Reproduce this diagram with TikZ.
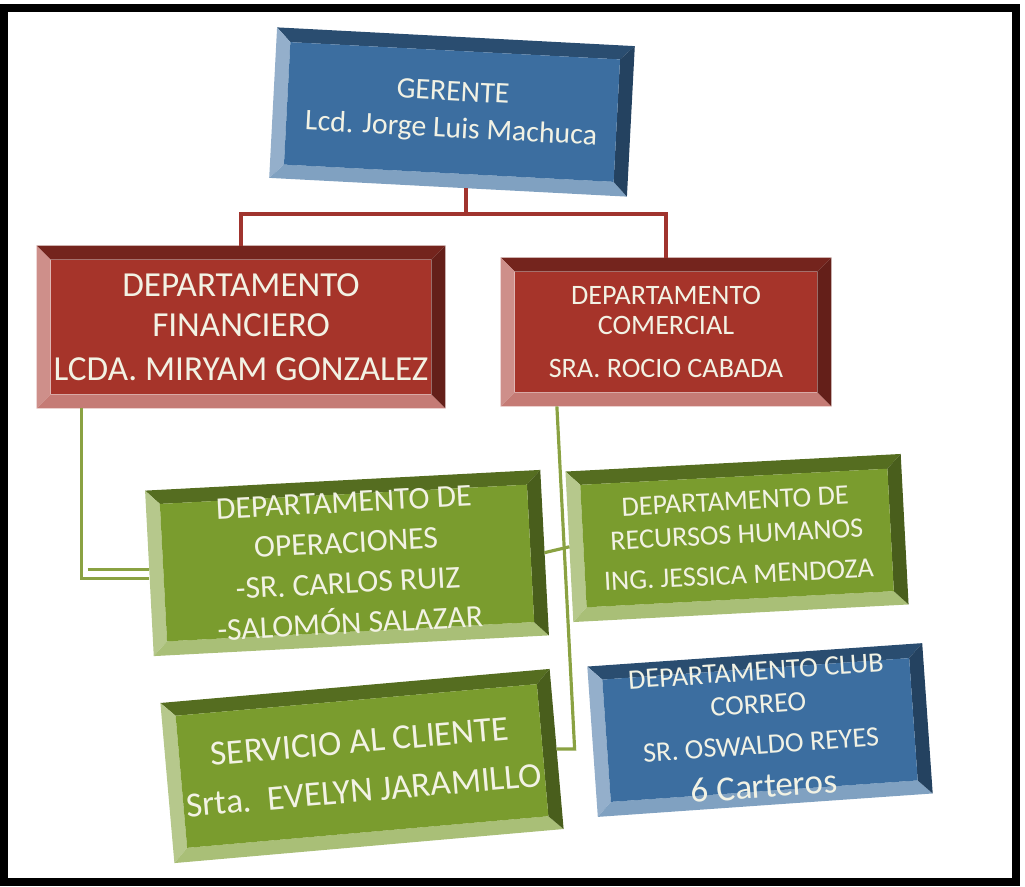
\documentclass[tikz,border=0pt]{standalone}
\usepackage{fontspec}
\setmainfont{Carlito}
\usetikzlibrary{calc,backgrounds}

\definecolor{boxblue}{RGB}{60,110,160}
\definecolor{boxred}{RGB}{166,52,42}
\definecolor{boxgreen}{RGB}{122,156,46}
\definecolor{linered}{RGB}{160,52,46}
\definecolor{linegreen}{RGB}{138,162,66}
\definecolor{boxtext}{RGB}{242,242,228}

\newcommand{\bevw}{8pt}

\tikzset{
  orgbox/.style={rectangle, inner sep=0pt, align=center, text=boxtext},
  redline/.style={draw=linered, line width=2pt},
  greenline/.style={draw=linegreen, line width=1.8pt}
}

\begin{document}
\begin{tikzpicture}[x=0.2mm, y=-0.2mm]
\useasboundingbox (0,0) rectangle (1025,886);

% black frame
\draw[line width=1.6mm] (4,8) rectangle (1016,882);

% boxes
\node[orgbox, minimum width=7.15cm, minimum height=3cm, rotate=-3,
      font=\fontsize{17}{21}\selectfont] (ger) at (452,112)
      {GERENTE\\Lcd. Jorge Luis Machuca};
\node[orgbox, minimum width=8.16cm, minimum height=3.24cm,
      font=\fontsize{20}{23}\selectfont] (fin) at (241,327)
      {DEPARTAMENTO\\FINANCIERO\\[2pt]LCDA. MIRYAM GONZALEZ};
\node[orgbox, minimum width=6.6cm, minimum height=2.96cm,
      font=\fontsize{16}{17}\selectfont] (com) at (666,332)
      {DEPARTAMENTO\\COMERCIAL\\[7pt]SRA. ROCIO CABADA};
\node[orgbox, minimum width=7.9cm, minimum height=3.3cm, rotate=3,
      font=\fontsize{18}{23}\selectfont] (ops) at (347,563)
      {DEPARTAMENTO DE\\OPERACIONES\\-SR. CARLOS RUIZ\\-SALOMÓN SALAZAR};
\node[orgbox, minimum width=6.7cm, minimum height=3cm, rotate=3,
      font=\fontsize{16}{19}\selectfont] (rrh) at (737,538)
      {DEPARTAMENTO DE\\RECURSOS HUMANOS\\[4pt]ING. JESSICA MENDOZA};
\node[orgbox, minimum width=7.8cm, minimum height=3.2cm, rotate=5,
      font=\fontsize{20}{28}\selectfont] (srv) at (362,766)
      {SERVICIO AL CLIENTE\\Srta.\ \ EVELYN JARAMILLO};
\node[orgbox, minimum width=6.7cm, minimum height=3cm, rotate=4,
      font=\fontsize{16}{19}\selectfont] (club) at (760,730)
      {DEPARTAMENTO CLUB\\CORREO\\[4pt]SR. OSWALDO REYES\\[6pt]{\fontsize{20}{20}\selectfont 6 Carteros}};

% bevelled faces behind the text
\begin{scope}[on background layer]
\foreach \n/\fc in {ger/boxblue, fin/boxred, com/boxred, ops/boxgreen,
                    rrh/boxgreen, srv/boxgreen, club/boxblue}{
  \coordinate (o1) at (\n.north west);
  \coordinate (o2) at (\n.north east);
  \coordinate (o3) at (\n.south east);
  \coordinate (o4) at (\n.south west);
  \coordinate (i1) at ($(o1)!\bevw!(o2) + (o1)!\bevw!(o4) - (o1)$);
  \coordinate (i2) at ($(o2)!\bevw!(o1) + (o2)!\bevw!(o3) - (o2)$);
  \coordinate (i3) at ($(o3)!\bevw!(o4) + (o3)!\bevw!(o2) - (o3)$);
  \coordinate (i4) at ($(o4)!\bevw!(o3) + (o4)!\bevw!(o1) - (o4)$);
  \fill[\fc!70!black] (o1) -- (o2) -- (i2) -- (i1) -- cycle; % top
  \fill[\fc!55!white] (o1) -- (i1) -- (i4) -- (o4) -- cycle; % left
  \fill[\fc!65!white] (o4) -- (i4) -- (i3) -- (o3) -- cycle; % bottom
  \fill[\fc!60!black] (o2) -- (o3) -- (i3) -- (i2) -- cycle; % right
  \fill[\fc] (i1) -- (i2) -- (i3) -- (i4) -- cycle;
}
\end{scope}

% red connectors
\coordinate (stem) at ($(ger.south west)!0.55!(ger.south east)$);
\coordinate (bar) at ($(stem)+(0,26)$);
\draw[redline] (stem) -- (bar);
\draw[redline] (fin.north) |- (bar) -| (com.north);

% green connectors
\coordinate (fdrop) at ($(fin.south west)!0.11!(fin.south east)$);
\draw[greenline] (fdrop) |- ($(ops.west)+(0,5)$);
\draw[greenline] ($(fdrop |- ops.west)+(6,-4)$) -- ($(ops.west)+(0,-4)$);
\coordinate (cdrop) at ($(com.south west)!0.17!(com.south east)$);
\draw[greenline] (cdrop) -- ($(srv.east)+(18,0)$) -- (srv.east);
\draw[greenline] (ops.east) -- (rrh.west);
\end{tikzpicture}
\end{document}
